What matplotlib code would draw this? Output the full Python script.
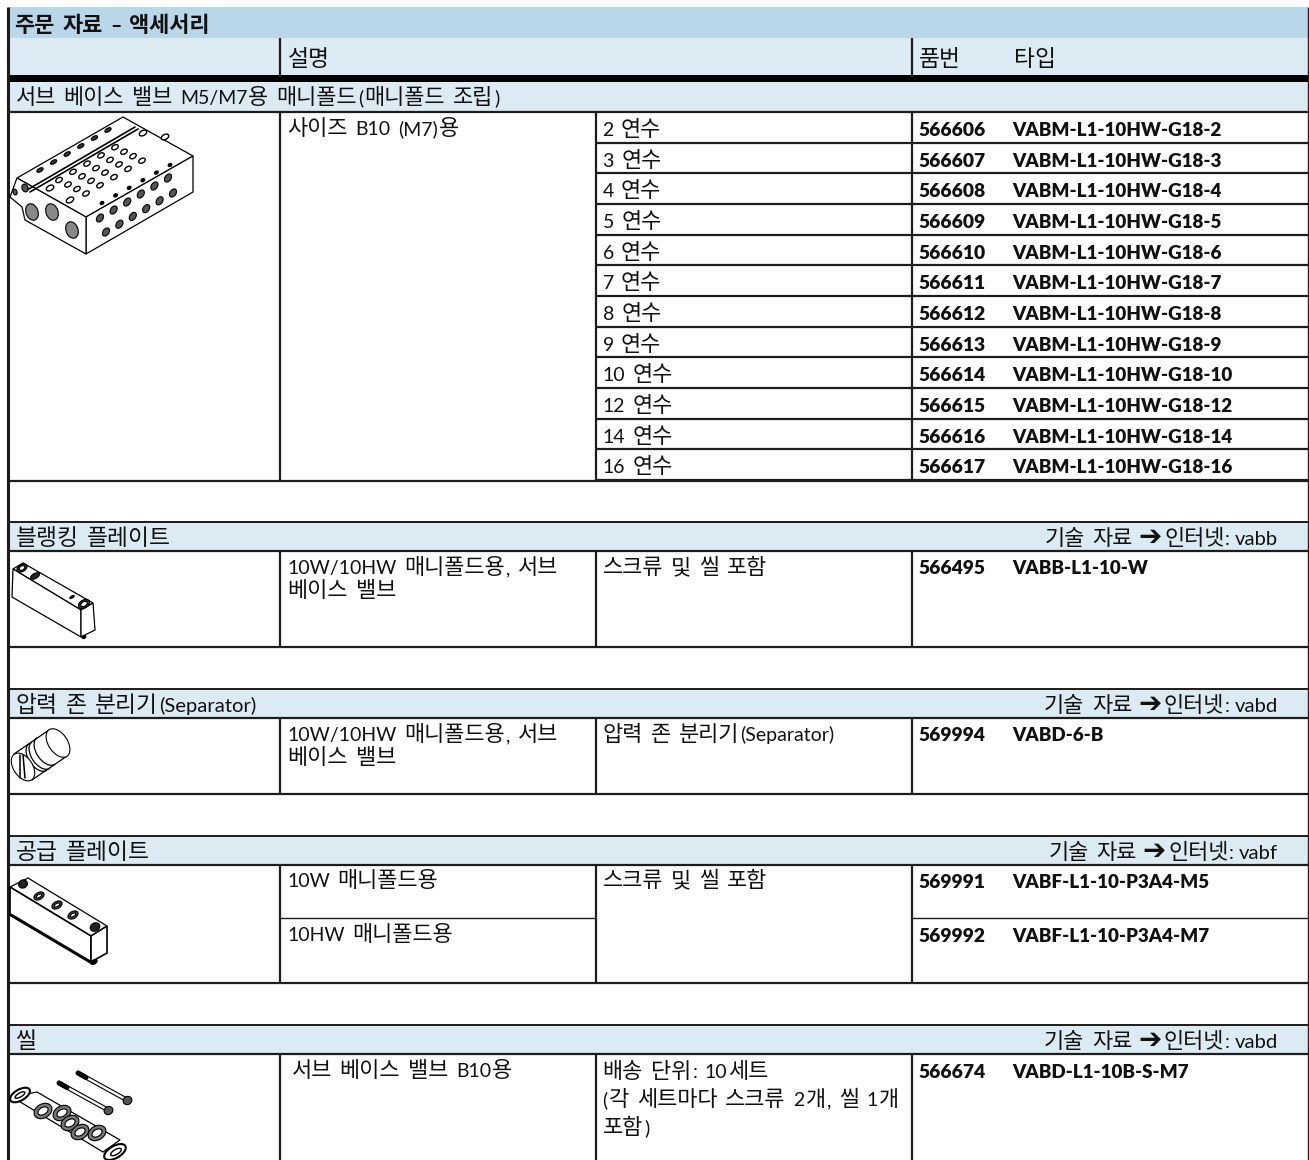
import re
import numpy as np
import matplotlib
matplotlib.use("Agg")
from matplotlib import pyplot as plt
from matplotlib.patches import Rectangle, Polygon, Ellipse, Arc

W, H = 1309, 1160
KR = ['Noto Sans CJK KR', 'DejaVu Sans']
LAT = ['Lato', 'DejaVu Sans']
DARK = '#1c1c1c'
BAND = '#dceaf4'
TITLE = '#bad7e9'

# table text
title = '주문 자료 – 액세서리'
head_desc = '설명'
head_part = '품번'
head_type = '타입'

manifold_title = '서브 베이스 밸브 M5/M7용 매니폴드(매니폴드 조립)'
manifold_size = '사이즈 B10 (M7)용'
stations = [2, 3, 4, 5, 6, 7, 8, 9, 10, 12, 14, 16]
manifold_parts = [566606, 566607, 566608, 566609, 566610, 566611,
                  566612, 566613, 566614, 566615, 566616, 566617]

blank_title = '블랭킹 플레이트'
blank_desc = ['10W/10HW 매니폴드용, 서브', '베이스 밸브']
blank_note = '스크류 및 씰 포함'
blank_part = (566495, 'VABB-L1-10-W')

sep_title = '압력 존 분리기(Separator)'
sep_desc = ['10W/10HW 매니폴드용, 서브', '베이스 밸브']
sep_note = '압력 존 분리기(Separator)'
sep_part = (569994, 'VABD-6-B')

supply_title = '공급 플레이트'
supply_desc = ['10W 매니폴드용', '10HW 매니폴드용']
supply_note = '스크류 및 씰 포함'
supply_parts = [(569991, 'VABF-L1-10-P3A4-M5'), (569992, 'VABF-L1-10-P3A4-M7')]

seal_title = '씰'
seal_desc = '서브 베이스 밸브 B10용'
seal_note = ['배송 단위: 10세트', '(각 세트마다 스크류 2개, 씰 1개', '포함)']
seal_part = (566674, 'VABD-L1-10B-S-M7')

link_names = ['vabb', 'vabd', 'vabf', 'vabd']

fig = plt.figure(figsize=(W / 100, H / 100), dpi=100)
ax = fig.add_axes([0, 0, 1, 1])
ax.set_xlim(0, W)
ax.set_ylim(H, 0)
ax.axis('off')
rend = fig.canvas.get_renderer()

X0, X1, X2, X3, XR = 8, 280, 596, 912, 1308


def band(y0, y1, color=BAND):
    ax.add_patch(Rectangle((X0, y0), XR - X0, y1 - y0, fc=color, ec='none', zorder=0))


def hl(y, x0=X0, x1=XR, lw=1.6, color=DARK):
    ax.plot([x0, x1], [y, y], color=color, lw=lw, solid_capstyle='butt', zorder=2)


def vl(x, y0, y1, lw=1.6, color=DARK):
    ax.plot([x, x], [y0, y1], color=color, lw=lw, solid_capstyle='butt', zorder=2)


def runs(s):
    return re.findall(r'[\uac00-\ud7a3]+| +|[^\uac00-\ud7a3 ]+', s)


def mixed(x, y, s, size=15.8, bold=False, right=False):
    # hangul and latin are set in different fonts and sizes, one run at a time
    weight = 'bold' if bold else 'normal'
    items = []
    total = 0
    for r in runs(s):
        if r.strip() == '':
            w = len(r) * size * 0.4
            items.append((None, total))
            total += w
            continue
        hangul = re.match(r'[\uac00-\ud7a3]', r) is not None
        t = ax.text(0, y, r, family=KR if hangul else LAT,
                    fontsize=size if hangul else size * 0.89,
                    fontweight=weight, va='baseline', ha='left', color='#111111', zorder=3)
        w = t.get_window_extent(rend).width + (1.5 if hangul else 1.0)
        items.append((t, total))
        total += w
    start = x - total if right else x - 0.5
    for t, off in items:
        if t is not None:
            t.set_x(start + off)
    return total


def part_row(y, part, name):
    ax.text(918.5, y, str(part), family=LAT, fontsize=13.9, fontweight='heavy', va='baseline', color='#111111', zorder=3)
    ax.text(1012.5, y, name, family=LAT, fontsize=13.5, fontweight='heavy', va='baseline', color='#111111', zorder=3)


def link(y, name):
    w = ax.text(1278, y, name, family=LAT, fontsize=14.6, va='baseline', ha='right', color='#111111', zorder=3)
    wn = w.get_window_extent(rend).width
    ax.text(1278 - wn - 5, y, ':', family=LAT, fontsize=14, va='baseline', ha='right', color='#111111', zorder=3)
    w2 = mixed(1278 - wn - 9, y, '인터넷', right=True)
    ax.text(1278 - wn - 9 - w2 - 2, y - 0.5, '\u2794', family='DejaVu Sans', fontsize=20, fontweight='bold',
            va='baseline', ha='right', color='#111111', zorder=3)
    mixed(1278 - wn - 9 - w2 - 30, y, '기술 자료', right=True)


# bands
band(7, 38, TITLE)
band(38, 75)
band(82, 112)
section_tops = [521, 688, 835, 1024]
for yt in section_tops:
    band(yt, yt + 30)

# header
mixed(15, 32, title, size=15.8, bold=True)
mixed(288, 66, head_desc, size=16.4)
mixed(919, 66, head_part, size=16.4)
mixed(1014, 66, head_type, size=16.4)
vl(280, 38, 82)
vl(912, 38, 82)
ax.add_patch(Rectangle((X0, 75), XR - X0, 7, fc='black', ec='none', zorder=2))

# manifold block
mixed(16, 104, manifold_title)
hl(111.5)
mixed(288, 135, manifold_size)
row_tops = 112 + np.arange(len(stations)) * 30.67
for top, st, part in zip(row_tops, stations, manifold_parts):
    mixed(603, top + 24, f'{st} 연수')
    part_row(top + 24, part, f'VABM-L1-10HW-G18-{st}')
    hl(top + 30.67, X2, XR)
hl(480.5)
vl(X1, 112, 480)
vl(X2, 112, 480)
vl(X3, 112, 480)

# section frames: top of band, bottom of band, bottom of cell
section_ends = [647, 794, 983, 1160]
section_names = [blank_title, sep_title, supply_title, seal_title]
for yt, ye, nm, ln in zip(section_tops, section_ends, section_names, link_names):
    hl(yt + 0.5, lw=1.4)
    hl(yt + 30, lw=1.6)
    mixed(16, yt + 24, nm, size=16.4)
    link(yt + 24, ln)
    vl(X1, yt + 30, ye)
    vl(X2, yt + 30, ye)
    vl(X3, yt + 30, ye)
    if ye < H:
        hl(ye)

# blanking plate row
mixed(288, 574, blank_desc[0])
mixed(288, 597, blank_desc[1])
mixed(603, 574, blank_note)
part_row(574, *blank_part)

# separator row
mixed(288, 741, sep_desc[0])
mixed(288, 764, sep_desc[1])
mixed(603, 741, sep_note)
part_row(741, *sep_part)

# supply plate row
mixed(288, 887, supply_desc[0])
mixed(288, 941, supply_desc[1])
mixed(603, 887, supply_note)
part_row(888, *supply_parts[0])
part_row(942, *supply_parts[1])
hl(918, X1, X2, lw=1.0)
hl(918, X3, XR, lw=1.0)

# seal row
mixed(292, 1077, seal_desc)
mixed(603, 1078, seal_note[0])
mixed(603, 1106, seal_note[1])
mixed(603, 1134, seal_note[2])
part_row(1078, *seal_part)

# outer frame
vl(X0, 7, H, lw=2.2)
vl(XR, 7, H, lw=1.0)


# line drawings of the parts
def poly(pts, fc='white', lw=0.9, z=4):
    ax.add_patch(Polygon(pts, closed=True, fc=fc, ec='black', lw=lw, zorder=z))


def ell(x, y, w, h, ang=-30, fc='white', lw=0.8, z=5):
    ax.add_patch(Ellipse((x, y), w, h, angle=ang, fc=fc, ec='black', lw=lw, zorder=z))


def line(xs, ys, lw=0.8, z=5):
    ax.plot(xs, ys, color='black', lw=lw, zorder=z, solid_capstyle='round')


# manifold
poly([(17, 178), (123, 117), (193, 156), (86, 217)])
poly([(86, 217), (193, 156), (193, 192), (86, 254)])
poly([(10, 197), (17, 178), (86, 217), (86, 254), (25, 220), (22, 207)])
line([27, 135], [190, 127], lw=1.2)
line([30, 138], [192, 129], lw=1.2)
for i in range(6):
    ell(40 + i * 13.6, 170 - i * 8, 7, 3.5, fc='#333333')
for col in range(5):
    for row in range(4):
        ell(59 + col * 14 + row * 9, 180 - col * 8.2 + row * 4.5, 7, 4.5, lw=1.0)
ell(50, 188, 8, 5, lw=1.0)
ell(70, 200, 8, 5, lw=1.0)
ell(143, 133, 8, 5, lw=1.0)
ell(165, 137, 8, 5, lw=1.0)
for i in range(6):
    ell(102 + i * 13.6, 203 - i * 7.6, 4, 3, fc='black')
    ell(100 + i * 13.6, 218 - i * 8, 9, 6, ang=-55, fc='#555555')
    ell(106 + i * 13.4, 232 - i * 7.8, 9, 6, ang=-55, fc='#555555')
ell(32, 212, 12, 17, ang=-20, fc='#888888')
ell(52, 212, 12, 17, ang=-20, fc='#888888')
ell(72, 230, 12, 17, ang=-20, fc='#888888')
ell(25, 188, 6, 8, ang=-20, fc='#555555')
ell(15, 192, 4, 6, ang=-20, fc='#555555')

# blanking plate
poly([(13, 569), (23, 563), (93, 603), (81, 610)])
poly([(13, 569), (81, 610), (81, 637), (12, 597)])
poly([(81, 610), (93, 603), (95, 630), (81, 637)])
ell(22, 568, 11, 7, fc='#333333')
ell(22, 568, 6, 4)
ell(84, 604, 12, 8, fc='#333333')
ell(84, 604, 7, 4.5)
ell(35, 576, 10, 5, fc='#222222')
ell(72, 597, 5, 2, fc='black')
ell(84, 637, 4, 3, fc='black')

# separator
poly([(14, 754), (49, 730), (67, 756), (32, 780)], lw=0.9)
ell(58, 743, 19, 32, ang=-34)
for bx, by in ((38, 757), (41, 755), (46, 751)):
    ax.add_patch(Arc((bx, by), 19, 32, angle=-34, theta1=90, theta2=270, color='black', lw=0.9, zorder=5))
ell(23, 767, 19, 31, ang=-34)
line([20, 20], [755, 778], lw=1.1)
line([23, 25], [755, 778], lw=1.1)

# supply plate
poly([(10, 887), (28, 878), (107, 926), (91, 936)])
poly([(10, 887), (91, 936), (91, 962), (10, 915)], lw=1.2)
poly([(91, 936), (107, 926), (107, 953), (91, 962)], lw=1.2)
ell(23, 884, 9, 8, fc='#222222')
ell(95, 927, 10, 8, fc='#222222')
for hx, hy in zip((39, 57, 73), (896, 905, 915)):
    ell(hx, hy, 11, 7, fc='#444444')
    ell(hx, hy, 6, 3)
line([11, 92], [915, 963], lw=2.2)
ell(94, 962, 7, 4, fc='black')

# seal
poly([(12, 1097), (37, 1092), (120, 1140), (103, 1152)])
for sx0, sy0, sx1, sy1 in ((78, 1073, 127, 1100), (59, 1083, 108, 1110)):
    line([sx0, sx1], [sy0 - 2, sy1 - 2])
    line([sx0, sx1], [sy0 + 2, sy1 + 2])
    line([sx0, sx0 + 8], [sy0, sy0 + 4.5], lw=3.6)
    ell(sx1 + 0.5, sy1 + 0.5, 9, 8, fc='#555555')
for rx, ry in zip((43, 62, 70, 80, 97), (1111, 1113, 1123, 1132, 1133)):
    ell(rx, ry, 19, 14, fc='#777777')
    ell(rx, ry, 11, 7)
ell(20, 1095, 22, 11, fc='white', lw=1.5)
ell(20, 1095, 11, 4, fc='white', lw=1.0)
ell(115, 1152, 24, 12, fc='white', lw=1.5)
ell(116, 1152, 12, 5, fc='white', lw=1.0)

fig.savefig('out.png', dpi=100, facecolor='white')
